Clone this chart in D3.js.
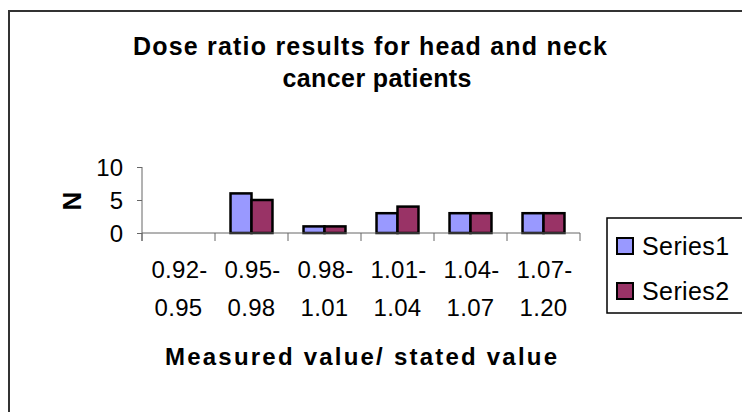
<!DOCTYPE html>
<html>
<head>
<meta charset="utf-8">
<script src="https://cdn.jsdelivr.net/npm/d3@7"></script>
<style>
  html, body { margin: 0; padding: 0; background: #fff; }
  svg { display: block; font-family: "Liberation Sans", Arial, sans-serif; }
</style>
</head>
<body>
<svg id="chart" width="742" height="412"></svg>
<script>
// Dose ratio bins (measured / stated) and counts per series
const categories = ["0.92-\n0.95", "0.95-\n0.98", "0.98-\n1.01", "1.01-\n1.04", "1.04-\n1.07", "1.07-\n1.20"];
const seriesNames = ["Series1", "Series2"];
const series1 = [0, 6, 1, 3, 3, 3];
const series2 = [0, 5, 1, 4, 3, 3];
const yTicks = [0, 5, 10];
const colors = ["#9999FF", "#993366"];

const svg = d3.select("#chart");

// outer chart frame
svg.append("rect")
  .attr("x", 9).attr("y", 11).attr("width", 760).attr("height", 420)
  .attr("fill", "#fff").attr("stroke", "#333").attr("stroke-width", 2);

// title
const title = svg.append("g").attr("font-weight", "bold").attr("font-size", 25).attr("text-anchor", "middle");
title.append("text").attr("x", 370).attr("y", 55)
  .attr("textLength", 474).attr("lengthAdjust", "spacing")
  .text("Dose ratio  results for head and neck");
title.append("text").attr("x", 377).attr("y", 87)
  .attr("textLength", 189).attr("lengthAdjust", "spacing")
  .text("cancer patients");

const plot = { left: 142, right: 580, top: 167, bottom: 233 };

const x0 = d3.scaleBand().domain(d3.range(categories.length))
  .range([plot.left, plot.right]).paddingInner(0).paddingOuter(0);
const x1 = d3.scaleBand().domain(seriesNames)
  .range([0, x0.bandwidth()]).paddingInner(0).paddingOuter(0.74);
const y = d3.scaleLinear().domain([0, 10]).range([plot.bottom, plot.top]);

const rows = categories.map((c, i) => ({ i, values: [series1[i], series2[i]] }));

// bars
const groups = svg.append("g").selectAll("g").data(rows).join("g")
  .attr("transform", d => `translate(${x0(d.i)},0)`);
groups.selectAll("rect")
  .data(d => d.values.map((v, k) => ({ v, k })).filter(e => e.v > 0))
  .join("rect")
  .attr("x", e => x1(seriesNames[e.k]))
  .attr("y", e => y(e.v))
  .attr("width", x1.bandwidth())
  .attr("height", e => y(0) - y(e.v))
  .attr("fill", e => colors[e.k])
  .attr("stroke", "#000").attr("stroke-width", 2.5);

// y axis
const yAxis = svg.append("g").attr("transform", `translate(${plot.left},0)`)
  .call(d3.axisLeft(y).tickValues(yTicks).tickSize(5).tickPadding(14));
yAxis.select(".domain").attr("d", `M0,${plot.top}V${plot.bottom + 8}`).attr("stroke", "#666");
yAxis.selectAll(".tick line").attr("stroke", "#666");
yAxis.selectAll(".tick text").attr("font-size", 24).attr("fill", "#000")
  .attr("font-family", "Liberation Sans, Arial, sans-serif").attr("dy", "0.36em");

// x axis: ticks at category boundaries
const boundaries = d3.range(categories.length + 1).map(i => i === categories.length ? plot.right : x0(i));
const xAxis = svg.append("g");
xAxis.append("line").attr("x1", plot.left).attr("x2", plot.right)
  .attr("y1", plot.bottom).attr("y2", plot.bottom).attr("stroke", "#666");
xAxis.selectAll("line.tk").data(boundaries).join("line").attr("class", "tk")
  .attr("x1", d => d).attr("x2", d => d)
  .attr("y1", plot.bottom).attr("y2", plot.bottom + 8).attr("stroke", "#666");

// category labels (two lines each)
const catLabels = svg.append("g").attr("font-size", 24).attr("text-anchor", "middle").attr("letter-spacing", 0.3);
categories.forEach((c, i) => {
  const lines = c.split("\n");
  const cx = x0(i) + x0.bandwidth() / 2;
  catLabels.append("text").attr("x", cx + 1).attr("y", 278).text(lines[0]);
  catLabels.append("text").attr("x", cx).attr("y", 316).text(lines[1]);
});

// axis titles
svg.append("text").attr("x", 361).attr("y", 365)
  .attr("text-anchor", "middle").attr("font-weight", "bold").attr("font-size", 24)
  .attr("textLength", 392).attr("lengthAdjust", "spacing")
  .text("Measured value/ stated value");
svg.append("text").attr("transform", "translate(81,201) rotate(-90)")
  .attr("text-anchor", "middle").attr("font-weight", "bold").attr("font-size", 26)
  .text("N");

// legend
const legend = svg.append("g");
legend.append("rect").attr("x", 607).attr("y", 218).attr("width", 160).attr("height", 95)
  .attr("fill", "#fff").attr("stroke", "#000").attr("stroke-width", 1.5);
const items = legend.selectAll("g").data(seriesNames).join("g")
  .attr("transform", (d, k) => `translate(0,${246 + k * 45})`);
items.append("rect").attr("x", 617).attr("y", -8).attr("width", 16).attr("height", 16)
  .attr("fill", (d, k) => colors[k]).attr("stroke", "#000").attr("stroke-width", 2);
items.append("text").attr("x", 642).attr("y", 9).attr("font-size", 25).attr("letter-spacing", 0.4)
  .text(d => d);
</script>
</body>
</html>
